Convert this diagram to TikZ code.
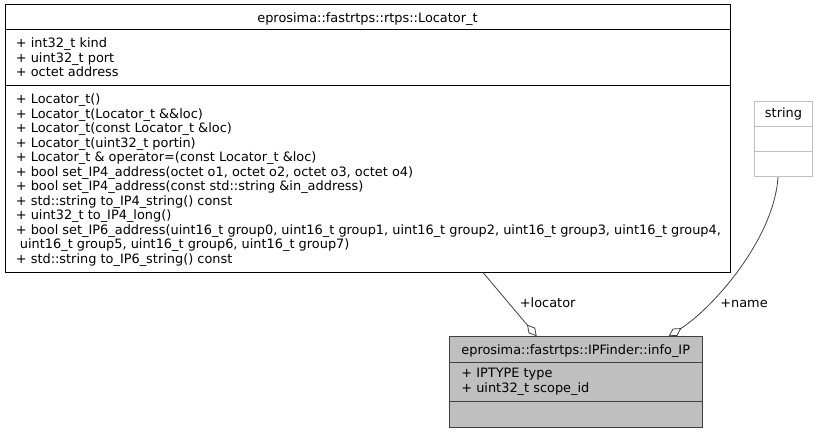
\documentclass[tikz,border=0pt]{standalone}
\usepackage{fontspec}
\setmainfont{DejaVu Sans}
\usetikzlibrary{arrows.meta,calc}
\definecolor{edgegray}{HTML}{404040}
\definecolor{fillgray}{HTML}{BFBFBF}
\begin{document}
\begin{tikzpicture}[x=1pt,y=-1pt,
  font=\fontsize{12.9}{14.5}\selectfont,
  txt/.style={anchor=base west,inner sep=0pt},
  ttl/.style={anchor=base,inner sep=0pt},
  edge/.style={draw=edgegray,line width=0.8pt},
  agg/.style={-{Diamond[open,length=15pt,width=8.5pt,line width=0.8pt]}},
  lbl/.style={inner sep=0pt,anchor=base}]
\useasboundingbox (0,0) rectangle (819,433);
% Locator_t
\node (loc) [draw=black,line width=1pt,inner sep=0pt,minimum width=725pt,minimum height=267pt] at (367.5,138.5) {};
\draw[line width=1pt] (loc.west |- 0,30) -- (loc.east |- 0,30);
\draw[line width=1pt] (loc.west |- 0,86) -- (loc.east |- 0,86);
\node (loct) [ttl] at (367.5,22.3) {eprosima::fastrtps::rtps::Locator\_t};
\foreach \t [count=\i] in {{+ int32\_t kind},{+ uint32\_t port},{+ octet address}}
  \node (la\i) [txt] at (15.7,47.7+14.5*\i-14.5) {\t};
\foreach \t [count=\i] in {
  {+ Locator\_t()},
  {+ Locator\_t(Locator\_t \&\&loc)},
  {+ Locator\_t(const Locator\_t \&loc)},
  {+ Locator\_t(uint32\_t portin)},
  {+ Locator\_t \& operator=(const Locator\_t \&loc)},
  {+ bool set\_IP4\_address(octet o1, octet o2, octet o3, octet o4)},
  {+ bool set\_IP4\_address(const std::string \&in\_address)},
  {+ std::string to\_IP4\_string() const},
  {+ uint32\_t to\_IP4\_long()},
  {+ bool set\_IP6\_address(uint16\_t group0, uint16\_t group1, uint16\_t group2, uint16\_t group3, uint16\_t group4,},
  {\hspace*{4pt}uint16\_t group5, uint16\_t group6, uint16\_t group7)},
  {+ std::string to\_IP6\_string() const}}
  \node (lm\i) [txt] at (15.7,103.7+14.5*\i-14.5) {\t};
% string
\node (str) [draw=fillgray,line width=0.8pt,inner sep=0pt,minimum width=58.4pt,minimum height=75pt] at (783.5,139.2) {};
\draw[draw=fillgray,line width=0.8pt] (str.west |- 0,126) -- (str.east |- 0,126);
\draw[draw=fillgray,line width=0.8pt] (str.west |- 0,151.7) -- (str.east |- 0,151.7);
\node (strt) [ttl] at (783.5,117.4) {string};
% info_IP
\node (info) [draw=edgegray,fill=fillgray,line width=1pt,inner sep=0pt,minimum width=252.7pt,minimum height=90.3pt] at (575.7,381.85) {};
\draw[draw=edgegray,line width=1pt] (info.west |- 0,362) -- (info.east |- 0,362);
\draw[draw=edgegray,line width=1pt] (info.west |- 0,401.7) -- (info.east |- 0,401.7);
\node (infot) [ttl] at (575.7,354.3) {eprosima::fastrtps::IPFinder::info\_IP};
\node (ia1) [txt] at (461.2,377.7) {+ IPTYPE type};
\node (ia2) [txt] at (461.2,392.4) {+ uint32\_t scope\_id};
% connectors
\draw[edge,agg] ([xshift=115.5]loc.south) -- ([xshift=-39]info.north);
\draw[edge,agg] ([xshift=-5.5]str.south) .. controls +(-4,62) and +(44,-28) .. ([xshift=93]info.north);
\node (l1) [lbl] at (547.7,307.8) {+locator};
\node (l2) [lbl] at (744,307.8) {+name};
\end{tikzpicture}
\end{document}
